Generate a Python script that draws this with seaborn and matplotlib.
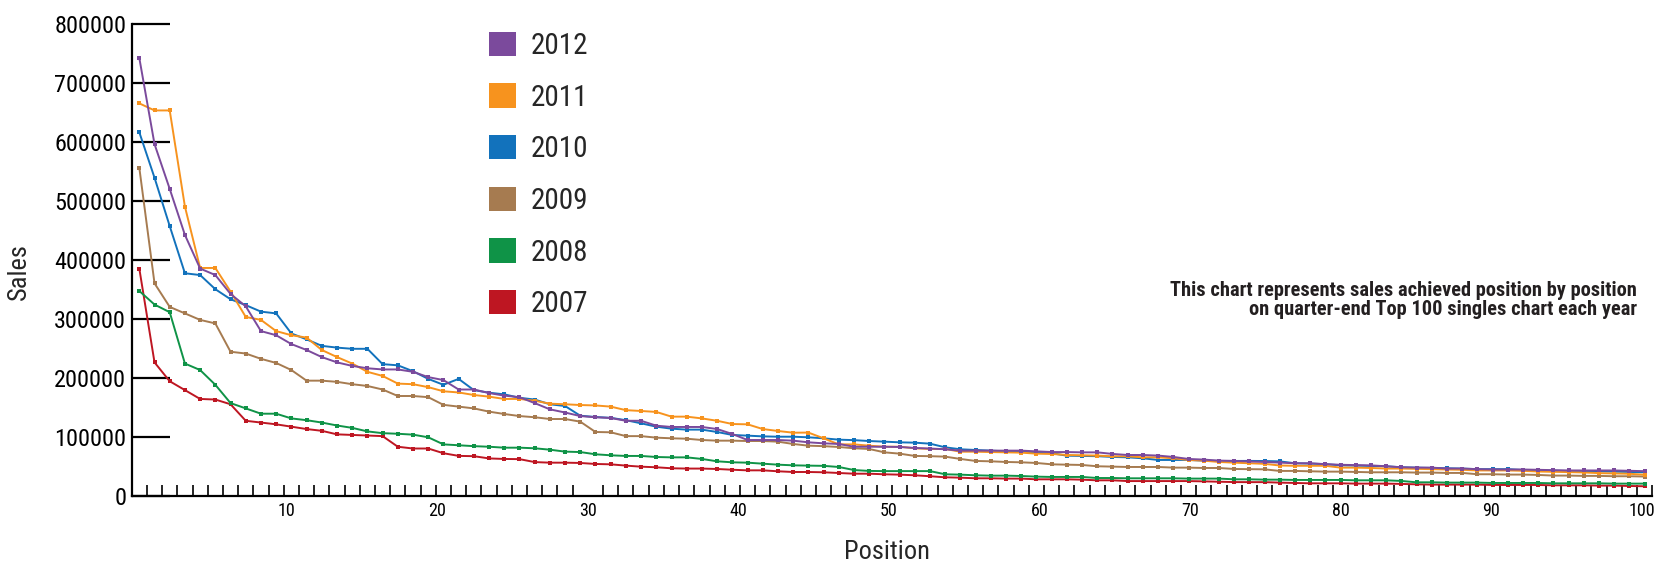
import numpy as np
import pandas as pd
import matplotlib
matplotlib.use('Agg')
import matplotlib.pyplot as plt
from matplotlib.patches import Patch
import seaborn as sns

# sales per chart position, in thousands
years = ['2012', '2011', '2010', '2009', '2008', '2007']
colors = ['#7B4A9C', '#F7931E', '#1272BC', '#A67B50', '#0F9347', '#BE1622']

sales_2012 = [743, 597, 521, 443, 386, 375, 343, 322, 280, 273,
              258, 248, 236, 227, 221, 217, 215, 215, 211, 202,
              197, 181, 181, 175, 170.6, 168, 158, 147.4, 142, 136,
              134, 132.7, 128, 128, 119.7, 117.5, 117.5, 117.5, 114, 105.6,
              95.4, 95.4, 95.4, 94.3, 91.5, 89.8, 88.7, 84, 84, 84,
              83.6, 81.9, 81, 79.7, 77.4, 77.4, 77.4, 77.4, 77.4, 76.2,
              75, 75, 74.5, 74.5, 71.8, 70, 70, 69, 66.7, 63.3,
              62.2, 60.5, 60, 59, 58.2, 57.1, 56, 56, 54.5, 53.4,
              52.9, 52.4, 50.9, 49.2, 48.6, 48.6, 47, 47, 46, 45.4,
              45.4, 45.4, 44.9, 44.3, 43.8, 43.8, 43.8, 43.8, 43.2, 42.6]
sales_2011 = [666, 654, 654, 491, 387, 387, 347, 304, 299, 280,
              273, 269, 248, 236, 225, 211, 204, 191, 190, 185,
              178, 176, 171.7, 168.9, 165, 165, 162, 157, 156, 154.7,
              154, 152, 146, 144.6, 143, 135, 135, 132, 128, 122.5,
              122, 114, 110.7, 107.8, 108, 98.3, 88, 88, 85.8, 84,
              84, 81.4, 80.2, 80.2, 75.6, 75.6, 75, 74.5, 74, 72.3,
              71.8, 70, 69.5, 69, 67.8, 67.8, 66.1, 66.1, 64.4, 61.6,
              60.4, 58.2, 57, 56, 55, 52.2, 51.7, 51.7, 51.7, 48.6,
              48.6, 48, 47, 47, 46.5, 46, 45.4, 44.9, 43.8, 43.8,
              43.8, 43.2, 42, 41.5, 41, 40.4, 39.3, 38.7, 38.2, 36.5]
sales_2010 = [617, 540, 458, 378, 375, 351, 334, 324, 313, 310,
              276, 266, 255, 252, 250, 250, 224, 222, 212, 199,
              189, 199, 180, 175.6, 172.8, 167, 164, 156, 153, 136.6,
              134.4, 133, 129, 123.7, 118, 114.6, 113, 113, 109, 104,
              102.8, 101.6, 101, 101, 100, 98.3, 96, 95.2, 93.7, 92.6,
              91.5, 90.9, 89.2, 83, 79.7, 78.5, 77.4, 76.2, 76, 73.4,
              73, 68.9, 68.4, 68, 66.7, 66.1, 64.4, 61.6, 61.6, 61.6,
              60.4, 59.9, 59.9, 60, 59.8, 59.2, 56, 55.4, 54.5, 52.5,
              52, 51.4, 50.9, 49.2, 48.6, 48, 47.5, 47, 46, 46,
              46, 44.6, 44, 43.4, 42.9, 42.9, 42.4, 41.8, 41.3, 40.7]
sales_2009 = [557, 361, 321, 310, 299, 293, 245, 242, 233, 226,
              214, 196, 196, 194, 190, 187, 181, 170, 170, 168,
              155, 152, 149, 143.5, 139.5, 136, 134, 131, 131, 126.5,
              109, 108.5, 102, 102, 99.4, 98.3, 97.6, 95.4, 94.3, 94.3,
              93.7, 93.7, 92.6, 88.7, 85.8, 85, 83.6, 81.4, 80.2, 74.5,
              72.3, 68.4, 68, 67.2, 63.3, 59.9, 59.3, 58.2, 57.6, 56.5,
              54.2, 53.6, 53.1, 50.9, 50.3, 49.7, 49.7, 49.7, 48.6, 48.6,
              48, 48, 46.3, 46, 45.7, 43, 43, 42.4, 41.8, 41.8,
              41.3, 40.7, 40.7, 40.7, 40.2, 40.2, 39.6, 39.6, 37.4, 37.4,
              36.8, 36.8, 36.2, 35.1, 35.1, 34.6, 34.6, 34, 34, 33.5]
sales_2008 = [348, 325, 312, 225, 214, 189, 158, 149, 140, 140,
              132, 129, 125, 120, 116, 110, 107, 106, 104.5, 100,
              88, 86.5, 85, 84, 82.4, 82.4, 81.4, 79, 75.7, 75,
              71.2, 69.5, 68.4, 68.4, 66.6, 66, 66, 63.3, 59.3, 57.6,
              57, 55.3, 53.6, 52.5, 52, 51.6, 49.7, 44.5, 43, 42.7,
              42.7, 42.7, 42.7, 37.3, 36.7, 35.6, 35, 35, 34.4, 33.3,
              32.8, 32.8, 32.8, 31, 31, 30.5, 30.5, 30.5, 30.5, 30,
              30, 30, 28.8, 28.8, 28.2, 28.2, 27.7, 27.7, 27.7, 27.7,
              27.1, 27.1, 27.1, 26, 23.7, 23.7, 23.2, 23.2, 23.2, 22.6,
              22.6, 22.6, 22.6, 22, 22, 22, 22, 21.5, 21.5, 21.5]
sales_2007 = [386, 227, 195, 180, 165, 164, 156, 128, 125, 122,
              118, 114, 111, 105, 104, 103, 102, 84, 81, 81,
              73, 68.5, 68, 64.2, 63.3, 63, 58, 57, 57, 56.5,
              54.8, 54.2, 52, 50.2, 49.2, 47.5, 47, 47, 46.3, 45,
              44, 44, 42.4, 41.2, 41.2, 40.7, 39.5, 38.3, 38.3, 37.3,
              36.7, 35.6, 34, 32.2, 31.6, 30.5, 30.5, 30, 30, 28.8,
              28.8, 28.8, 28.2, 27.1, 27.1, 25.8, 25.8, 25.8, 25.8, 25.8,
              25.3, 24.7, 24.1, 24, 24, 23.2, 22.6, 22, 22, 22,
              21.5, 21.5, 21.5, 21, 20.3, 19.8, 19.8, 19.8, 19.8, 19.2,
              19.2, 19.2, 19.2, 18.6, 18.6, 18.6, 18.1, 18.1, 17.5, 17]

positions = list(range(1, 101))
y_ticks = [0, 100000, 200000, 300000, 400000, 500000, 600000, 700000, 800000]
x_labels = ['10', '20', '30', '40', '50', '60', '70', '80', '90', '100']
note = ('This chart represents sales achieved position by position\n'
        'on quarter-end Top 100 singles chart each year')

all_sales = [sales_2012, sales_2011, sales_2010, sales_2009, sales_2008, sales_2007]
frames = []
for yr, s in zip(years, all_sales):
    frames.append(pd.DataFrame({'Position': positions,
                                'Sales': np.array(s) * 1000,
                                'Year': yr}))
df = pd.concat(frames, ignore_index=True)

sns.set_style('white')
plt.rcParams['font.family'] = ['Roboto Condensed', 'DejaVu Sans']

fig = plt.figure(figsize=(16.61, 5.67), dpi=100)
ax = fig.add_axes([131.7 / 1661, 1 - 496.3 / 567, (1652.3 - 131.7) / 1661, (496.3 - 24.3) / 567])

sns.lineplot(data=df, x='Position', y='Sales', hue='Year', hue_order=years[::-1],
             palette=dict(zip(years, colors)), marker='s', markersize=2.6,
             markeredgewidth=0, linewidth=1.4, legend=False, ax=ax)

ax.set_xlim(0.5, 100.5)
ax.set_ylim(0, 800000)

ax.set_yticks(y_ticks)
ax.set_yticklabels([str(v) for v in y_ticks])
ax.tick_params(axis='y', direction='in', length=27, width=1.6, pad=4,
               labelsize=17.5, colors='black', left=True)

# tick marks between positions, labels a little off the marks as in the original
ax.set_xticks(np.arange(1.5, 101, 1), minor=True)
ax.set_xticks(np.linspace(10.7, 99.8, 10))
ax.set_xticklabels(x_labels)
ax.tick_params(axis='x', which='minor', direction='in', length=8, width=1.2,
               color='black', bottom=True)
ax.tick_params(axis='x', which='major', length=0, pad=4,
               labelsize=13, colors='black', bottom=True)

for side in ['top', 'right']:
    ax.spines[side].set_visible(False)
for side in ['left', 'bottom']:
    ax.spines[side].set_color('black')
    ax.spines[side].set_linewidth(1.6)

ax.set_xlabel('Position', fontsize=19)
ax.set_ylabel('Sales', fontsize=19)
ax.xaxis.set_label_coords((887 - 131.7) / (1652.3 - 131.7), -(540 - 496.3) / (496.3 - 24.3))
ax.yaxis.set_label_coords(-(131.7 - 31) / (1652.3 - 131.7), (496.3 - 272) / (496.3 - 24.3))

handles = [Patch(facecolor=c, edgecolor='none') for c in colors]
ax.legend(handles, years, loc='upper left', bbox_to_anchor=(489 / 1661, 1 - 31.5 / 567),
          bbox_transform=fig.transFigure, frameon=False, fontsize=21,
          handlelength=0.92, handleheight=0.92, handletextpad=0.5,
          labelspacing=0.8, borderpad=0, borderaxespad=0)

fig.text(1637 / 1661, 1 - 300 / 567, note, ha='right', va='center',
         fontsize=14.7, fontweight='bold', color='#231F20', linespacing=1.05)

fig.savefig('out.png', dpi=100)
